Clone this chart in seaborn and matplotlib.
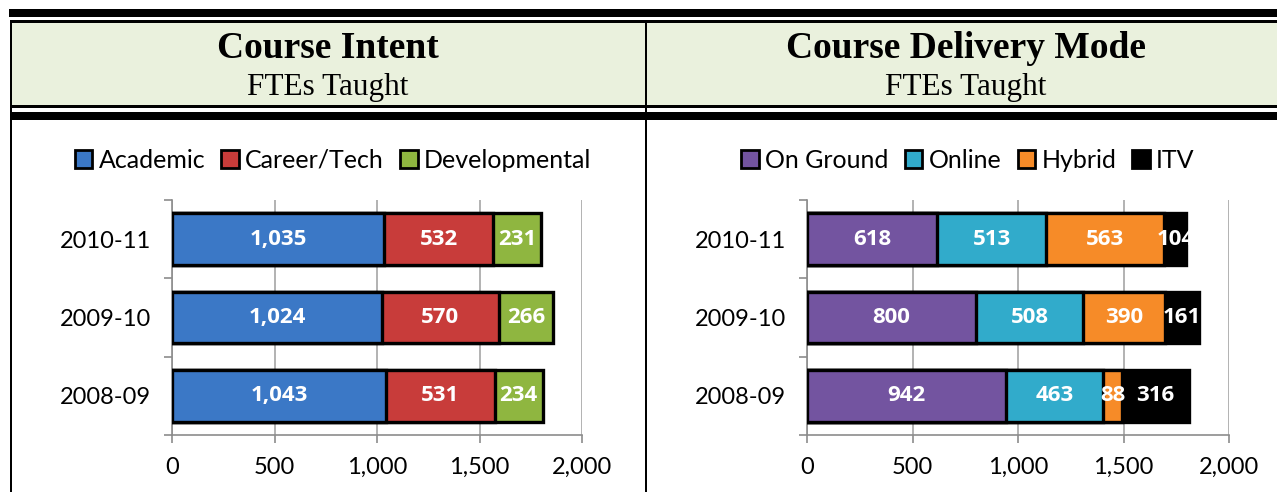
import matplotlib
matplotlib.use("Agg")
import matplotlib.pyplot as plt
import seaborn as sns
import pandas as pd
import numpy as np
from matplotlib.patches import Rectangle, Patch

# ---------------- data ----------------
years = ["2010-11", "2009-10", "2008-09"]

intent_series = ["Academic", "Career/Tech", "Developmental"]
academic = [1035, 1024, 1043]
career_tech = [532, 570, 531]
developmental = [231, 266, 234]
intent_colors = ["#3B78C6", "#C83C3A", "#8FB640"]

mode_series = ["On Ground", "Online", "Hybrid", "ITV"]
on_ground = [618, 800, 942]
online = [513, 508, 463]
hybrid = [563, 390, 88]
itv = [104, 161, 316]
mode_colors = ["#7354A0", "#31ABCB", "#F68B28", "#000000"]

x_ticks = [0, 500, 1000, 1500, 2000]
x_ticklabels = ["0", "500", "1,000", "1,500", "2,000"]

titles = ["Course Intent", "Course Delivery Mode"]
subtitle = "FTEs Taught"

# ---------------- figure ----------------
W, H = 1277, 492
sns.set_theme(style="white")
plt.rcParams["font.family"] = ["Lato", "DejaVu Sans"]
plt.rcParams["text.color"] = "black"
fig = plt.figure(figsize=(W / 100, H / 100), dpi=100)
fig.patch.set_facecolor("white")


def fx(px):
    return px / W


def fy(py):
    return 1 - py / H


def frect(x0, y0, x1, y1, color, z=0):
    fig.add_artist(Rectangle((fx(x0), fy(y1)), fx(x1) - fx(x0), fy(y0) - fy(y1),
                             transform=fig.transFigure, facecolor=color,
                             edgecolor="none", zorder=z))


# header band and rules
frect(12, 23, W, 105, "#EAF1DD")
frect(9, 9, W, 17, "black")
frect(10, 20, W, 23, "black")
frect(10, 105, W, 108, "black")
frect(10, 112, W, 120, "black")
frect(10, 20, 12, H, "black")
frect(645, 20, 647, H, "black")

# titles
for cx, t in zip([328, 966], titles):
    fig.text(fx(cx), fy(49), t, ha="center", va="center", color="black",
             family=["Liberation Serif", "DejaVu Serif"], fontweight="bold", fontsize=27)
    fig.text(fx(cx), fy(88), subtitle, ha="center", va="center", color="black",
             family=["Liberation Serif", "DejaVu Serif"], fontsize=22.5)


def draw_panel(ax_px, names, values, colors, legend_cx):
    x0, x1 = ax_px
    ax = fig.add_axes([fx(x0), fy(435), fx(x1) - fx(x0), fy(200) - fy(435)])
    n = len(names)
    cum = np.cumsum(np.array(values), axis=0)  # shape (n_series, n_years)
    # overlay cumulative totals, largest first
    for i in range(n - 1, -1, -1):
        df = pd.DataFrame({"year": years, "val": cum[i]})
        sns.barplot(data=df, x="val", y="year", orient="h", color=colors[i],
                    saturation=1, width=0.66, edgecolor="black", linewidth=2.4,
                    ax=ax, zorder=3)
    # labels
    starts = np.vstack([np.zeros(len(years)), cum[:-1]])
    for i in range(n):
        for j in range(len(years)):
            v = values[i][j]
            ax.text(starts[i][j] + v / 2, j, f"{v:,}", ha="center", va="center",
                    color="white", fontweight="bold", fontsize=16, zorder=5,
                    family=["Open Sans", "DejaVu Sans"])
    ax.set_xlim(0, 2000)
    ax.set_ylim(2.5, -0.5)
    ax.set_xticks(x_ticks)
    ax.set_xticklabels(x_ticklabels, fontsize=17)
    ax.set_yticks(range(len(years)))
    ax.set_yticklabels(years, fontsize=17)
    ax.set_yticks([-0.5, 0.5, 1.5, 2.5], minor=True)
    ax.tick_params(axis="y", which="major", length=0, pad=15)
    ax.tick_params(axis="y", which="minor", length=6, color="#8C8C8C", width=1.2, direction="out", left=True)
    ax.tick_params(axis="x", which="major", length=6, color="#8C8C8C", width=1.2, direction="out", bottom=True, pad=10)
    ax.set_xlabel("")
    ax.set_ylabel("")
    ax.grid(axis="x", color="#A6A6A6", linewidth=1.2, zorder=0)
    ax.set_axisbelow(True)
    for s in ["top", "right"]:
        ax.spines[s].set_visible(False)
    for s in ["left", "bottom"]:
        ax.spines[s].set_color("#8C8C8C")
        ax.spines[s].set_linewidth(1.2)
    for lab in ax.get_xticklabels() + ax.get_yticklabels():
        lab.set_color("black")
    handles = [Patch(facecolor=c, edgecolor="black", linewidth=2, label=nm)
               for nm, c in zip(names, colors)]
    leg = fig.legend(handles=handles, loc="center", bbox_to_anchor=(fx(legend_cx), fy(160)),
                     ncol=n, frameon=False, fontsize=18, handlelength=0.7, handleheight=0.7,
                     handletextpad=0.25, columnspacing=0.65)
    for t in leg.get_texts():
        t.set_color("black")
    return ax


draw_panel((172, 582), intent_series, [academic, career_tech, developmental],
           intent_colors, 333)
draw_panel((807, 1229), mode_series, [on_ground, online, hybrid, itv],
           mode_colors, 968)

fig.savefig("out.png", dpi=100, facecolor="white")
